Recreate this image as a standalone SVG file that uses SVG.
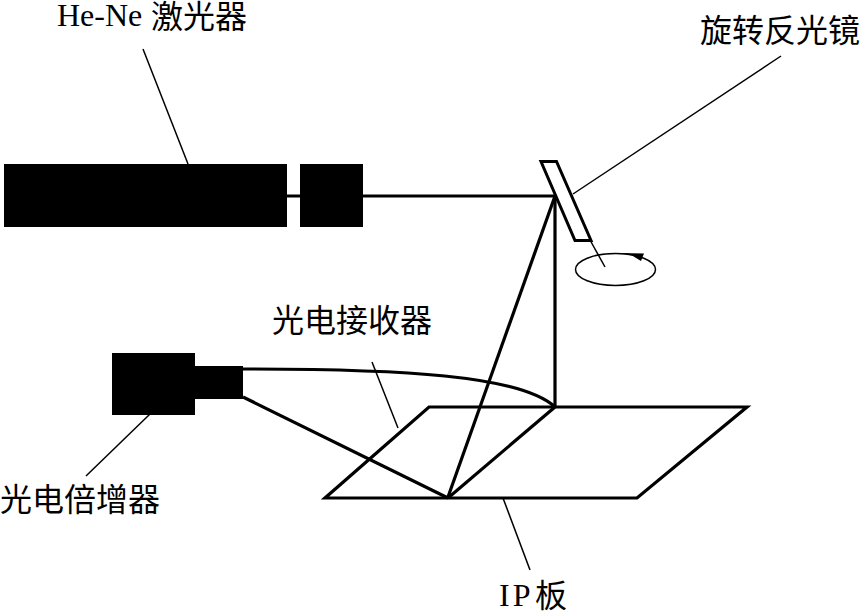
<svg xmlns="http://www.w3.org/2000/svg" width="861" height="613" viewBox="0 0 861 613">
<style>
text{font-family:"Liberation Serif","Noto Sans CJK SC",serif;font-size:32px;fill:#000}
.c{font-family:"Noto Sans CJK SC","Liberation Serif",serif;font-size:32px}
.l{fill:none;stroke:#000;stroke-width:3.2}
.t{fill:none;stroke:#000;stroke-width:1.5}
.b{fill:#000}
</style>
<rect width="861" height="613" fill="#fff"/>
<g id="connectors">
<path class="l" d="M287 196H300M363 196H555"/>
<path class="l" d="M555 196V407"/>
<path class="l" d="M555 196L448 497"/>
<path class="l" d="M243 369C400 369 520 375 555 407"/>
<path class="l" d="M243 397L448 498"/>
<path class="l" d="M555 407L448 498"/>
<path class="t" d="M143 49L188 164"/>
<path class="t" d="M781 56L573 194"/>
<path class="t" d="M590 240L605 267"/>
<path class="t" d="M372 362L398 428"/>
<path class="t" d="M150 414L86 476"/>
<path class="t" d="M503 498L530 570"/>
</g>
<g id="laser"><rect class="b" x="4" y="164" width="283" height="63"/><rect class="b" x="300" y="164" width="63" height="63"/></g>
<g id="mirror"><path fill="#fff" stroke="#000" stroke-width="3" d="M541 161.500H556.500L591 240.500H575Z"/></g>
<g id="rotation"><ellipse class="t" cx="615.500" cy="269.500" rx="40" ry="16"/><path class="b" d="M619 253L644 253.500L641 261L632 255.500Z"/></g>
<g id="pmt"><rect class="b" x="112" y="353" width="83" height="62"/><rect class="b" x="195" y="366" width="48" height="33"/></g>
<g id="ip-plate"><path class="l" d="M429 407H747L637 498H325Z"/></g>
<g id="labels">
<text x="57" y="26">He-Ne</text><text class="c" x="151" y="28">激光器</text>
<text class="c" x="700" y="42">旋转反光镜</text>
<text class="c" x="272" y="332">光电接收器</text>
<text class="c" x="0" y="511">光电倍增器</text>
<text x="499" y="606" letter-spacing="3">IP</text><text class="c" x="535" y="607">板</text>
</g>
</svg>
